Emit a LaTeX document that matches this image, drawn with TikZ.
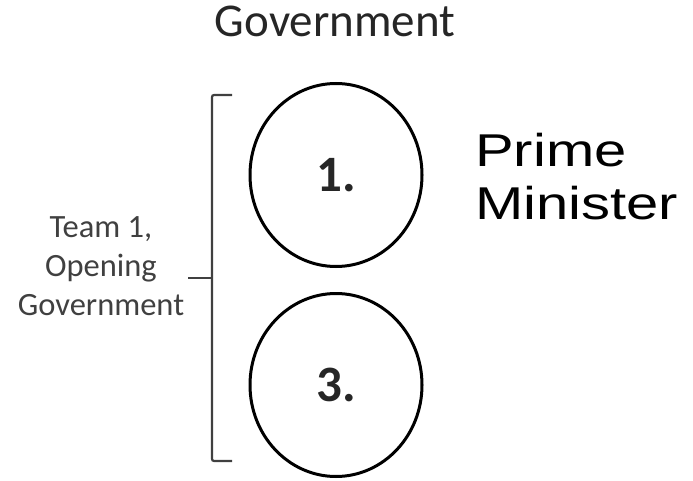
\documentclass[tikz,border=0pt]{standalone}
\usepackage{fontspec}
\setmainfont{Carlito}
\newfontfamily\armfont{Liberation Sans}
\usetikzlibrary{shapes.geometric}
\begin{document}
\begin{tikzpicture}[x=1pt,y=-1pt,
  seat/.style={draw=black, line width=3pt, ellipse, minimum width=172pt, minimum height=183pt, inner sep=0pt,
    font=\fontsize{51}{51}\selectfont\bfseries, text=black!85},
  brack/.style={draw=black!75, line width=2.2pt, rounded corners=2pt},
  lbl/.style={align=center, inner sep=0pt}]
\useasboundingbox (0,0) rectangle (693,481);
\node[lbl, anchor=base, font=\fontsize{47}{47}\selectfont, text=black!85] (title) at (335,37) {Government};
\node[seat] (pm) at (336,175) {1.};
\node[seat] (mg) at (336,385) {3.};
\node[lbl, anchor=base west, font=\armfont\fontsize{46}{53}\selectfont, text=black] (role) at (475,167)
  {\scalebox{1.26}[1]{\begin{tabular}[t]{@{}l@{}}Prime\\Minister\end{tabular}}};
\coordinate (bt) at (232,95);
\coordinate (bb) at (232,461);
\coordinate (bm) at (188,278);
\draw[brack] (bt) -| (212,461) -- (bb);
\draw[brack] (bm) -- (212,278);
\node[lbl, font=\fontsize{32.5}{39}\selectfont, text=black!75] (team) at (101,266)
  {Team 1,\\Opening\\Government};
\end{tikzpicture}
\end{document}
